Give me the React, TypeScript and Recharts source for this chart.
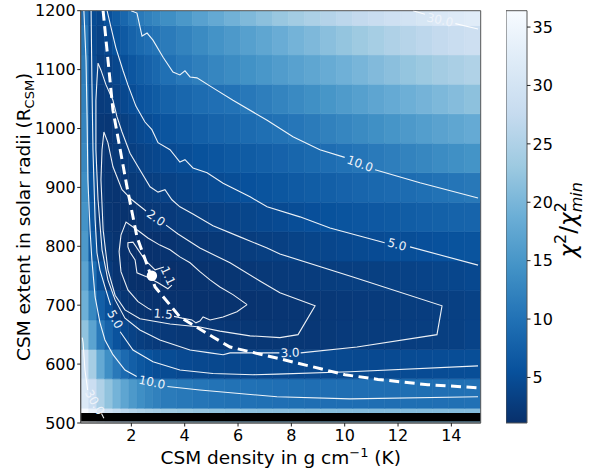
import React from 'react';
import { ScatterChart, Scatter, XAxis, YAxis, ReferenceArea, Label } from 'recharts';

// grid of the chi2 map: cell edges and values (rows from y=500 upwards)
const xEdges = [0.1, 0.4, 0.7, 1.0, 1.3, 1.6, 1.9, 2.2, 2.5, 2.8, 3.1, 3.7, 4.3, 4.9, 5.5, 6.1, 6.7, 7.3, 7.9, 8.5, 9.1, 9.7, 10.3, 10.9, 11.5, 12.1, 12.7, 13.3, 13.9, 14.5, 15.1];
const yEdges = [500, 525, 575, 625, 675, 725, 775, 825, 875, 925, 975, 1025, 1075, 1125, 1175, 1200];

const row500 = [36.4, 34.0, 31.0, 29.0, 27.5, 26.5, 25.7, 25.0, 24.5, 24.0, 23.5, 23.0, 22.6, 22.3, 22.0, 21.8, 21.6, 21.5, 21.4, 21.3, 21.2, 21.1, 21.0, 21.0, 21.0, 21.0, 21.0, 21.0, 21.0, 21.0];
const row550 = [31.5, 28.5, 25.0, 22.0, 19.5, 17.3, 15.5, 14.0, 12.8, 12.0, 11.3, 10.8, 10.4, 10.2, 10.0, 9.9, 9.8, 9.7, 9.6, 9.55, 9.5, 9.5, 9.5, 9.5, 9.55, 9.6, 9.65, 9.7, 9.8, 9.9];
const row600 = [29.0, 24.0, 18.0, 14.0, 11.0, 9.0, 7.5, 6.3, 5.6, 5.1, 4.8, 4.5, 4.35, 4.25, 4.2, 4.15, 4.15, 4.2, 4.2, 4.25, 4.3, 4.4, 4.45, 4.5, 4.6, 4.7, 4.75, 4.85, 4.95, 5.05];
const row650 = [22.0, 17.0, 11.0, 8.0, 5.8, 4.3, 3.5, 3.0, 2.7, 2.5, 2.35, 2.2, 2.15, 2.1, 2.05, 2.02, 2.0, 2.0, 2.02, 2.1, 2.3, 2.5, 2.65, 2.75, 2.85, 2.9, 2.95, 3.05, 3.3, 3.7];
const row700 = [19.0, 13.0, 7.5, 5.2, 2.7, 1.9, 1.65, 1.5, 1.42, 1.38, 1.35, 1.33, 1.35, 1.4, 1.45, 1.52, 1.65, 1.78, 1.9, 2.0, 2.2, 2.35, 2.5, 2.6, 2.7, 2.8, 2.9, 3.0, 3.25, 3.5];
const row750 = [17.0, 9.8, 5.0, 2.5, 1.7, 1.4, 1.2, 1.08, 1.0, 1.03, 1.12, 1.3, 1.45, 1.65, 1.85, 2.05, 2.25, 2.45, 2.6, 2.75, 2.85, 2.95, 3.05, 3.2, 3.35, 3.5, 3.7, 3.9, 4.1, 4.35];
const row800 = [15.5, 7.0, 3.3, 2.0, 1.6, 1.25, 1.08, 1.15, 1.3, 1.4, 1.55, 1.85, 2.05, 2.3, 2.6, 2.85, 3.05, 3.3, 3.6, 3.85, 4.1, 4.35, 4.55, 4.75, 4.95, 5.1, 5.3, 5.5, 5.75, 5.95];
const row850 = [14.5, 6.0, 2.3, 1.75, 1.55, 1.45, 1.5, 1.75, 2.05, 2.25, 2.5, 2.8, 3.05, 3.4, 3.7, 4.0, 4.3, 4.6, 4.95, 5.3, 5.6, 5.9, 6.2, 6.5, 6.8, 7.1, 7.4, 7.7, 8.0, 8.2];
const row900 = [13.8, 5.5, 2.1, 1.75, 1.65, 2.05, 2.4, 2.7, 2.95, 3.2, 3.5, 3.9, 4.3, 4.7, 5.1, 5.5, 5.9, 6.3, 6.7, 7.1, 7.5, 7.9, 8.3, 8.7, 9.0, 9.3, 9.65, 10.0, 10.4, 10.8];
const row950 = [13.0, 5.2, 2.1, 1.9, 2.3, 2.7, 3.1, 3.5, 3.9, 4.2, 4.6, 5.1, 5.6, 6.1, 6.6, 7.0, 7.5, 7.9, 8.4, 8.9, 9.4, 9.9, 10.5, 11.1, 11.7, 12.3, 12.9, 13.5, 14.1, 14.6];
const row1000 = [12.5, 5.0, 2.2, 2.1, 2.6, 3.2, 3.8, 4.4, 4.9, 5.4, 6.0, 6.8, 7.5, 8.1, 8.6, 9.1, 9.6, 10.0, 10.6, 11.3, 12.0, 12.7, 13.4, 14.1, 14.8, 15.5, 16.2, 16.9, 17.5, 18.1];
const row1050 = [12.0, 4.8, 2.6, 2.8, 3.5, 4.3, 5.0, 5.8, 6.4, 7.0, 7.8, 8.6, 9.2, 9.7, 10.1, 10.9, 11.7, 12.5, 13.3, 14.1, 14.9, 15.7, 16.5, 17.3, 18.1, 18.9, 19.6, 20.3, 21.0, 21.7];
const row1100 = [11.5, 4.6, 3.1, 3.4, 4.2, 5.2, 6.2, 7.1, 7.9, 8.7, 9.8, 10.9, 11.8, 12.7, 13.5, 14.3, 15.1, 15.9, 16.7, 17.5, 18.3, 19.1, 19.9, 20.7, 21.5, 22.3, 23.0, 23.8, 24.5, 25.2];
const row1150 = [10.8, 4.4, 3.6, 4.3, 5.6, 6.8, 8.0, 8.9, 9.7, 10.3, 11.2, 12.3, 13.4, 14.5, 15.5, 16.5, 17.5, 18.5, 19.5, 20.4, 21.4, 22.3, 23.2, 24.1, 25.0, 25.8, 26.6, 27.4, 28.1, 28.8];
const row1200 = [9.5, 4.8, 4.2, 5.4, 7.0, 8.6, 10.2, 11.1, 12.0, 12.8, 13.9, 15.3, 16.7, 18.0, 19.3, 20.5, 21.6, 22.7, 23.7, 24.7, 25.6, 26.5, 27.4, 28.2, 29.0, 29.7, 30.5, 31.2, 31.8, 32.3];
const chi2Rows = [row500, row550, row600, row650, row700, row750, row800, row850, row900, row950, row1000, row1050, row1100, row1150, row1200];

const badBand = [502.5, 517]; // masked strip drawn in black

// contour lines, split where the inline labels sit
const c30top = [[[12.56, 1200], [13.01, 1194]], [[14.15, 1178], [15.0, 1169]]];
const c30low = [[[0.16, 645], [0.19, 636], [0.26, 590], [0.36, 556]], [[0.88, 516], [0.97, 508]]];
const c10up = [
  [[1.99, 1200], [2.21, 1196], [2.4, 1157], [2.59, 1162], [2.81, 1150], [3.19, 1121], [3.56, 1096], [3.82, 1091], [4.01, 1098], [4.2, 1087.5], [4.46, 1086], [5.06, 1069], [5.81, 1048], [7.09, 1014], [8.06, 986], [9.07, 964], [10.0, 951]],
  [[11.14, 930], [12.82, 908], [15.0, 882]],
];
const c10low = [
  [[0.22, 1200], [0.3, 1116], [0.34, 1015], [0.37, 913], [0.45, 828], [0.52, 777], [0.64, 714], [0.82, 671], [1.01, 641], [1.31, 616], [1.76, 590], [2.2, 579]],
  [[3.35, 562], [4.57, 556], [7.46, 544.5], [10.2, 541], [15.0, 544.5]],
];
const c5up = [
  [[1.09, 1200], [1.24, 1171], [1.42, 1137], [1.69, 1098], [1.87, 1074], [2.17, 1038], [2.51, 1011], [2.77, 998], [3.0, 976], [3.45, 964], [3.82, 943], [4.01, 947], [4.31, 933], [4.84, 925], [5.44, 907], [6.45, 884], [7.09, 867], [8.32, 850], [9.45, 831], [11.5, 806]],
  [[12.45, 799], [15.0, 768]],
];
const c5low = [
  [[0.49, 1200], [0.52, 1082], [0.56, 964], [0.64, 845], [0.71, 789], [0.82, 760], [1.01, 731], [1.22, 700]],
  [[1.58, 655], [2.06, 624], [2.81, 604], [3.82, 590], [5.06, 584], [6.56, 582], [7.46, 583], [10.2, 587], [15.0, 597]],
];
const c3 = [
  [[8.35, 619], [10.46, 629], [13.46, 650], [13.65, 699], [10.31, 748], [7.57, 787], [7.09, 797], [6.07, 816], [5.06, 835], [4.31, 855], [3.82, 867], [3.52, 879], [3.26, 896], [3.0, 892], [2.7, 901], [2.25, 935], [1.95, 958], [1.65, 994], [1.46, 1020], [1.31, 1048], [1.05, 1074], [0.86, 1099], [0.75, 1111], [0.71, 1082], [0.67, 1048], [0.67, 964], [0.75, 879], [0.9, 794], [1.12, 743], [1.39, 709], [1.76, 678], [2.32, 658], [3.07, 641], [4.2, 624], [4.95, 619], [5.44, 616], [5.7, 619], [6.56, 619], [7.55, 619]],
];
const c2 = [
  [[3.3, 836], [3.75, 821], [4.57, 797], [5.7, 772], [6.82, 741], [7.57, 721], [8.89, 699], [8.25, 650], [7.57, 645], [6.45, 648], [5.32, 656], [4.57, 663], [3.45, 668], [2.32, 677], [1.76, 692], [1.39, 717], [1.12, 760], [0.94, 828], [0.86, 913], [0.9, 964], [0.97, 994], [1.12, 976], [1.31, 935], [1.65, 896], [2.02, 879], [2.55, 860]],
];
const c15 = [
  [[6.34, 701], [5.96, 689], [5.44, 680], [4.95, 675], [4.69, 680], [4.57, 673], [4.42, 670], [4.27, 675], [3.9, 678], [3.6, 681]],
  [[2.75, 692], [2.62, 695], [2.25, 706], [1.87, 726], [1.61, 757], [1.54, 791], [1.61, 819], [1.8, 841], [2.21, 828], [2.62, 814], [3.07, 802], [3.45, 794], [3.82, 782], [4.2, 772], [4.57, 757], [4.95, 743], [5.32, 731], [5.81, 718], [6.34, 701]],
];
const c11 = [
  [[3.22, 765], [2.89, 760], [2.51, 777], [2.06, 807], [1.87, 806], [1.87, 799], [1.95, 790], [2.14, 777], [2.21, 755], [2.59, 748], [3.0, 738], [3.37, 728], [3.52, 734]],
];

const contourLabels = [
  { x: 13.57, y: 1184, text: '30.0', angle: 12 },
  { x: 10.57, y: 940, text: '10.0', angle: 20 },
  { x: 11.96, y: 803, text: '5.0', angle: 15 },
  { x: 2.92, y: 848, text: '2.0', angle: 35 },
  { x: 3.37, y: 750, text: '1.1', angle: 65 },
  { x: 3.19, y: 685, text: '1.5', angle: 5 },
  { x: 7.95, y: 619, text: '3.0', angle: -2 },
  { x: 1.39, y: 676, text: '5.0', angle: 60 },
  { x: 2.77, y: 569, text: '10.0', angle: 12 },
  { x: 0.62, y: 535, text: '30.0', angle: 60 },
];

const degeneracy = [[0.94, 1200], [1.31, 1031], [1.84, 900], [2.21, 816], [2.89, 731], [3.82, 680], [5.06, 646], [5.7, 629], [7.57, 609], [10.01, 582], [11.25, 574], [13.12, 565], [14.96, 560]];
const bestFit = [{ x: 2.77, y: 750 }];

const xTicks = [2, 4, 6, 8, 10, 12, 14];
const yTicks = [500, 600, 700, 800, 900, 1000, 1100, 1200];
const cbTicks = [5, 10, 15, 20, 25, 30, 35];
const cMin = 1.1;
const cMax = 36.4;

const BLUES = ['#f7fbff', '#deebf7', '#c6dbef', '#9ecae1', '#6baed6', '#4292c6', '#2171b5', '#08519c', '#08306b'];
const FONT = 'DejaVu Sans, sans-serif';

function hexToRgb(h: string) {
  return [parseInt(h.slice(1, 3), 16), parseInt(h.slice(3, 5), 16), parseInt(h.slice(5, 7), 16)];
}

// Blues_r
function colorFor(v: number) {
  const t = Math.max(0, Math.min(1, (v - cMin) / (cMax - cMin)));
  const s = (1 - t) * 8;
  const i = Math.min(7, Math.floor(s));
  const f = s - i;
  const a = hexToRgb(BLUES[i]);
  const b = hexToRgb(BLUES[i + 1]);
  const c = a.map((ch, k) => Math.round(ch + (b[k] - ch) * f));
  return `rgb(${c[0]},${c[1]},${c[2]})`;
}

const toPts = (seg: number[][]) => seg.map(([x, y]) => ({ x, y }));

const noDot = () => <g />;

const ContourText = (p: any) => (
  <text
    x={p.cx}
    y={p.cy}
    transform={`rotate(${p.payload.angle} ${p.cx} ${p.cy})`}
    textAnchor="middle"
    dominantBaseline="central"
    fontSize={12}
    fontFamily={FONT}
    fill="#eef3fa"
  >
    {p.payload.text}
  </text>
);

const XTitle = (props: any) => {
  const vb = props.viewBox || { x: 80.7, y: 423, width: 400, height: 46 };
  const cx = vb.x + vb.width / 2;
  return (
    <text x={cx} y={464} textAnchor="middle" fontSize={18.5} fontFamily={FONT} fill="#000">
      CSM density in g cm<tspan fontSize={13} dy={-7}>−1</tspan>
      <tspan dy={7}> (K)</tspan>
    </text>
  );
};

const YTitle = (props: any) => {
  const vb = props.viewBox || { x: 0, y: 10.7, width: 80.7, height: 412.3 };
  const cy = vb.y + vb.height / 2;
  return (
    <text x={30} y={cy} transform={`rotate(-90 30 ${cy})`} textAnchor="middle" fontSize={18.5} fontFamily={FONT} fill="#000">
      CSM extent in solar radii (R<tspan fontSize={13} dy={4}>CSM</tspan>
      <tspan dy={-4}>)</tspan>
    </text>
  );
};

// colour-bar title, coordinates local to the colour-bar chart
const CbTitle = (props: any) => {
  const vb = props.viewBox || { x: 21, y: 10.7, width: 65, height: 412.3 };
  const cy = vb.y + vb.height / 2 + 3;
  const x = 70;
  return (
    <text x={x} y={cy} transform={`rotate(-90 ${x} ${cy})`} textAnchor="middle" fontSize={23} fontFamily={FONT} fill="#000">
      <tspan fontStyle="italic">χ</tspan>
      <tspan fontSize={16} dy={-9.5}>2</tspan>
      <tspan dy={9.5}>/</tspan>
      <tspan fontStyle="italic">χ</tspan>
      <tspan fontSize={16} dy={-9.5}>2</tspan>
      <tspan fontSize={16} fontStyle="italic" dx={-10.2} dy={15.5}>min</tspan>
    </text>
  );
};

export default function App() {
  const cells: any[] = [];
  chi2Rows.forEach((row, j) => {
    row.forEach((v, i) => {
      cells.push({ x1: xEdges[i], x2: xEdges[i + 1], y1: yEdges[j], y2: yEdges[j + 1], v });
    });
  });

  const contourSets = [c30top, c30low, c10up, c10low, c5up, c5low, c3, c2, c15, c11];
  const segments: { x: number; y: number }[][] = [];
  contourSets.forEach((set) => set.forEach((seg) => segments.push(toPts(seg))));

  const tickStyle = { fill: '#000', fontSize: 16, fontFamily: FONT };
  const gradStops = BLUES.slice().reverse();

  return (
    <div style={{ position: 'absolute', left: 0, top: 0, width: 592, height: 469, background: '#fff' }}>
      <div style={{ position: 'absolute', left: 0, top: 0 }}>
        <ScatterChart width={500} height={469} margin={{ top: 10.7, right: 19.3, bottom: 0, left: 0 }}>
          <XAxis
            type="number"
            dataKey="x"
            domain={[0.1, 15.1]}
            ticks={xTicks}
            allowDataOverflow
            height={46}
            tickSize={3.5}
            tickMargin={3.5}
            tick={tickStyle}
            axisLine={{ stroke: '#555' }}
            tickLine={{ stroke: '#222' }}
            label={<Label content={XTitle} />}
          />
          <YAxis
            type="number"
            dataKey="y"
            domain={[500, 1200]}
            ticks={yTicks}
            allowDataOverflow
            width={80.7}
            tickSize={3.5}
            tickMargin={1.5}
            tick={tickStyle}
            axisLine={{ stroke: '#555' }}
            tickLine={{ stroke: '#222' }}
            label={<Label content={YTitle} />}
          />
          {cells.map((c, k) => (
            <ReferenceArea
              key={`cell-${k}`}
              x1={c.x1}
              x2={c.x2}
              y1={c.y1}
              y2={c.y2}
              fill={colorFor(c.v)}
              fillOpacity={1}
              stroke={colorFor(c.v)}
              strokeWidth={0.6}
              ifOverflow="hidden"
            />
          ))}
          <ReferenceArea x1={0.1} x2={15.1} y1={badBand[0]} y2={badBand[1]} fill="#000" fillOpacity={1} stroke="none" ifOverflow="hidden" />
          {segments.map((seg, k) => (
            <Scatter
              key={`seg-${k}`}
              data={seg}
              line={{ stroke: '#ffffff', strokeWidth: 1.1, strokeOpacity: 0.92 }}
              lineType="joint"
              shape={noDot}
              isAnimationActive={false}
            />
          ))}
          <Scatter
            data={toPts(degeneracy)}
            line={{ stroke: '#ffffff', strokeWidth: 3, strokeDasharray: '10 5.5' }}
            lineType="joint"
            shape={noDot}
            isAnimationActive={false}
          />
          <Scatter data={bestFit} shape={(p: any) => <circle cx={p.cx} cy={p.cy} r={5.2} fill="#fff" />} isAnimationActive={false} />
          <Scatter data={contourLabels} shape={ContourText} isAnimationActive={false} />
          <ReferenceArea x1={0.1} x2={15.1} y1={500} y2={1200} fill="none" stroke="#555" strokeWidth={1} ifOverflow="visible" />
        </ScatterChart>
      </div>
      <div style={{ position: 'absolute', left: 506, top: 0 }}>
        <ScatterChart width={86} height={469} margin={{ top: 10.7, right: 0, bottom: 46, left: 0 }}>
          <defs>
            <linearGradient id="cbGrad" x1="0" y1="1" x2="0" y2="0">
              {gradStops.map((c, k) => (
                <stop key={k} offset={k / 8} stopColor={c} />
              ))}
            </linearGradient>
          </defs>
          <XAxis type="number" dataKey="x" domain={[0, 1]} allowDataOverflow hide />
          <YAxis
            type="number"
            dataKey="y"
            orientation="right"
            domain={[cMin, cMax]}
            ticks={cbTicks}
            allowDataOverflow
            width={65}
            tickSize={3.5}
            tickMargin={2}
            tick={tickStyle}
            axisLine={false}
            tickLine={{ stroke: '#222' }}
            label={<Label content={CbTitle} />}
          />
          <ReferenceArea x1={0} x2={1} y1={cMin} y2={cMax} fill="url(#cbGrad)" fillOpacity={1} stroke="#555" strokeWidth={1} ifOverflow="visible" />
        </ScatterChart>
      </div>
    </div>
  );
}
